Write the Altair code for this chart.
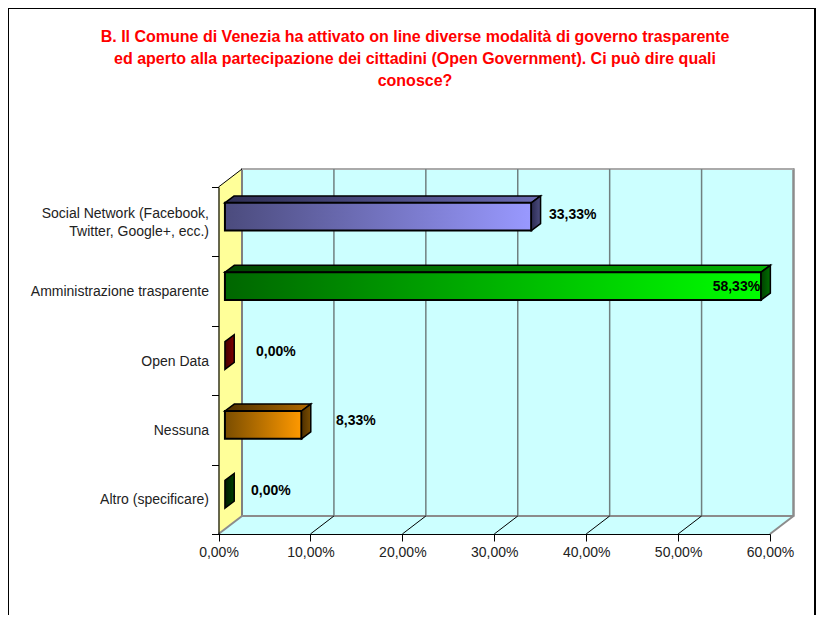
import altair as alt
import pandas as pd

TITLE = [
    "B. Il Comune di Venezia ha attivato on line diverse modalità di governo trasparente",
    "ed aperto alla partecipazione dei cittadini (Open Government). Ci può dire quali",
    "conosce?",
]
CATEGORIES = [["Social Network (Facebook,", "Twitter, Google+, ecc.)"], ["Amministrazione trasparente"],
              ["Open Data"], ["Nessuna"], ["Altro (specificare)"]]
VALUES = [33.33, 58.33, 0.0, 8.33, 0.0]
LABELS = ["33,33%", "58,33%", "0,00%", "8,33%", "0,00%"]
LABEL_DX = [2.63, -4.57, 4.08, 4.45, 3.54]
LABEL_DY = [0.095, 0.058, 0.122, 0.128, 0.119]
FRONT_COLORS = [("#4b4b7d", "#9999ff"), ("#006600", "#00ff00"), ("#800000", "#800000"),
                ("#7a4d00", "#ff9900"), ("#003300", "#003300")]
TOP_COLORS = [("#2f2f55", "#6b6bb3"), ("#004400", "#00b300"), ("#550000", "#800000"),
              ("#4d2f00", "#b36b00"), ("#002200", "#003300")]
SIDE_COLORS = [("#2a2a50", "#4d4d80"), ("#004000", "#007000"), ("#400000", "#800000"),
               ("#4d2f00", "#7a4d00"), ("#001a00", "#004000")]
TICKS = [0, 10, 20, 30, 40, 50, 60]

W, H = 808, 607
DX, DY = 2.557, 0.259          # wall depth in axis units
BX0, BH, BC = 0.7, 0.40, 0.072  # bar start, height, centre shift
BDX, BDY = 1.01, 0.10           # bar depth
LINE_STEP = 0.26                # category label line spacing in axis units
LABEL_NUDGE = -0.015

xs = alt.Scale(domain=[0, 60], range=[210.5, 762], nice=False, zero=False)
ys = alt.Scale(domain=[0, 5], range=[526, 179], nice=False, zero=False)

fmt = "replace(format(datum.value,'.2f'),'.',',')+'%'"
x_axis = alt.Axis(values=TICKS, labelExpr=fmt, orient="bottom", offset=526 - H, zindex=2,
                  domainColor="#000", domainWidth=1.2, tickColor="#000", tickSize=7, grid=False,
                  labelFont="Liberation Sans", labelFontSize=14, labelColor="#222", labelPadding=4,
                  labelFlush=False, labelOverlap=False)
y_axis = alt.Axis(values=[0, 1, 2, 3, 4, 5], labels=False, orient="left", offset=-210.5, zindex=2,
                  domainColor="#000", domainWidth=1.2, tickColor="#000", tickSize=7, grid=False)


def X(f="x"):
    return alt.X(f"{f}:Q", scale=xs, axis=x_axis, title=None)


def Y(f="y"):
    return alt.Y(f"{f}:Q", scale=ys, axis=y_axis, title=None)


def wall(x0, y0a, y0b, x1, y1a, y1b, **mark):
    d = pd.DataFrame({"x": [x0, x1], "y": [y0a, y1a], "y2": [y0b, y1b]})
    return alt.Chart(d).mark_area(orient="vertical", **mark).encode(
        x=X(), y=Y(), y2=alt.Y2("y2:Q"))


def flat(y0, x0a, x0b, y1, x1a, x1b, **mark):
    d = pd.DataFrame({"y": [y0, y1], "x": [x0a, x1a], "x2": [x0b, x1b]})
    return alt.Chart(d).mark_area(orient="horizontal", **mark).encode(
        y=Y(), x=X(), x2=alt.X2("x2:Q"))


def seg(x0, y0, x1, y1, color, width):
    d = pd.DataFrame({"x": [x0], "y": [y0], "x2": [x1], "y2": [y1]})
    return alt.Chart(d).mark_rule(color=color, strokeWidth=width).encode(
        x=X(), y=Y(), x2=alt.X2("x2:Q"), y2=alt.Y2("y2:Q"))


def grad(pair):
    return alt.Gradient(gradient="linear", x1=0, x2=1, y1=0, y2=0,
                        stops=[alt.GradientStop(color=pair[0], offset=0),
                               alt.GradientStop(color=pair[1], offset=1)])


layers = []
layers.append(wall(DX, DY, 5 + DY, 60 + DX, DY, 5 + DY, fill="#ccffff", stroke="#8c8c8c", strokeWidth=2))
layers.append(wall(0, 0, 5, DX, DY, 5 + DY, fill="#ffff99"))
layers.append(flat(0, 0, 60, DY, DX, 60 + DX, fill="#ccffff"))
layers.append(seg(DX, DY, DX, 5 + DY, "#808080", 2))
layers.append(seg(DX, DY, 60 + DX, DY, "#8c8c8c", 2))
layers.append(seg(60 + DX, DY, 60 + DX, 5 + DY, "#8c8c8c", 2))
layers.append(seg(DX, 5 + DY, 60 + DX, 5 + DY, "#aaaaaa", 2))
for t in TICKS[1:-1]:
    layers.append(seg(t + DX, DY, t + DX, 5 + DY, "#708080", 1.5))
    layers.append(seg(t, 0, t + DX, DY, "#000000", 1))
layers.append(seg(0, 0, DX, DY, "#8c8c8c", 2))
layers.append(seg(60, 0, 60 + DX, DY, "#8c8c8c", 2))
layers.append(seg(0, 5, DX, 5 + DY, "#000000", 1))

for i, v in enumerate(VALUES):
    c = 4.5 - i + BC
    lo, hi = c - BH / 2, c + BH / 2
    x0, x1 = BX0, BX0 + v
    if v > 0:
        layers.append(flat(hi, x0, x1, hi + BDY, x0 + BDX, x1 + BDX,
                           color=grad(TOP_COLORS[i]), stroke="#000", strokeWidth=1.5))
        front = pd.DataFrame({"x": [x0], "x2": [x1], "y": [lo], "y2": [hi]})
        layers.append(alt.Chart(front).mark_rect(color=grad(FRONT_COLORS[i]), stroke="#000", strokeWidth=2)
                      .encode(x=X(), x2=alt.X2("x2:Q"), y=Y(), y2=alt.Y2("y2:Q")))
    layers.append(wall(x1, lo, hi, x1 + BDX, lo + BDY, hi + BDY,
                       color=grad(SIDE_COLORS[i]), stroke="#000", strokeWidth=1.5))

rows = []
for i, lines in enumerate(CATEGORIES):
    for j, line in enumerate(lines):
        rows.append({"y": 4.5 - i + LABEL_NUDGE + ((len(lines) - 1) / 2 - j) * LINE_STEP, "t": line})
cat_df = pd.DataFrame(rows)
layers.append(alt.Chart(cat_df).mark_text(align="right", baseline="middle", font="Liberation Sans",
                                          fontSize=14, color="#222")
              .encode(x=alt.value(201), y=Y(), text="t:N"))

lab_df = pd.DataFrame({"x": [v + s for v, s in zip(VALUES, LABEL_DX)],
                       "y": [4.5 - i + s for i, s in enumerate(LABEL_DY)], "t": LABELS})
layers.append(alt.Chart(lab_df).mark_text(align="left", baseline="middle", font="Liberation Sans",
                                          fontSize=14, fontWeight="bold", color="#000")
              .encode(x=X(), y=Y(), text="t:N"))

for enc in [dict(x=alt.value(0), y=alt.value(0), y2=alt.value(H)),
            dict(x=alt.value(W - 1), y=alt.value(0), y2=alt.value(H)),
            dict(x=alt.value(0), x2=alt.value(W - 1), y=alt.value(0))]:
    layers.append(alt.Chart(pd.DataFrame({"a": [0]})).mark_rule(color="#000", strokeWidth=2).encode(**enc))

chart = alt.layer(*layers).properties(
    width=W, height=H,
    padding=0,
    autosize=alt.AutoSizeParams(type="none"),
    title=alt.TitleParams(text=TITLE, font="Liberation Sans", fontSize=16, fontWeight="bold",
                          color="#ff0000", anchor="middle", frame="group", lineHeight=22,
                          dy=94, dx=3, baseline="middle"),
).configure_view(stroke=None)

chart.save("out.html", embed_options={"renderer": "svg", "actions": False})
